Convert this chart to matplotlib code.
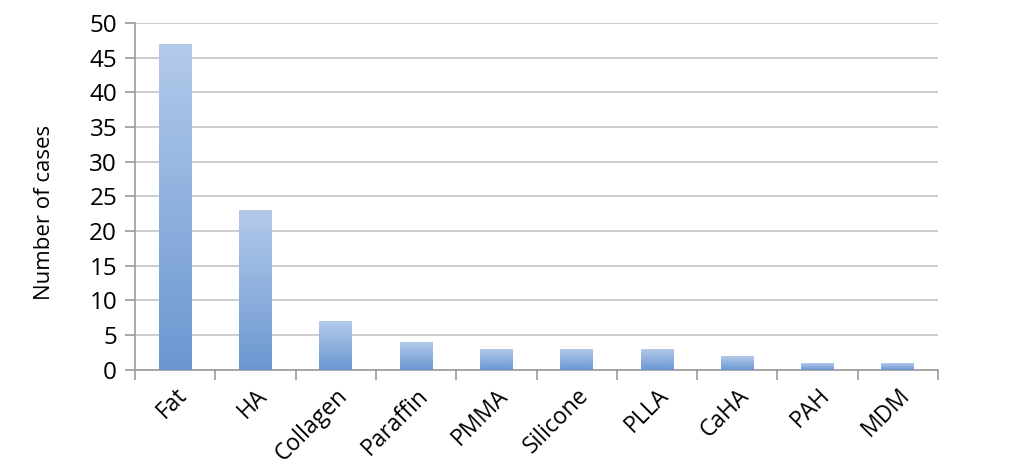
import numpy as np
import matplotlib.pyplot as plt
from matplotlib.colors import LinearSegmentedColormap

materials = ["Fat", "HA", "Collagen", "Paraffin", "PMMA", "Silicone", "PLLA", "CaHA", "PAH", "MDM"]
cases = [47, 23, 7, 4, 3, 3, 3, 2, 1, 1]

plt.rcParams['font.family'] = ['Open Sans', 'DejaVu Sans']

fig = plt.figure(figsize=(10.24, 4.67), dpi=100)
ax = fig.add_axes([0.132, 0.208, 0.784, 0.743])

x = np.arange(len(materials))
bars = ax.bar(x, cases, width=0.41, color='none', edgecolor='none', zorder=3)

# vertical gradient: darker at the bottom, lighter at the top
cmap = LinearSegmentedColormap.from_list("grad", ["#6b97d1", "#b3caeb"])
grad = np.linspace(0, 1, 256).reshape(-1, 1)
for b in bars:
    x0, y0 = b.get_x(), b.get_y()
    w, h = b.get_width(), b.get_height()
    im = ax.imshow(grad, cmap=cmap, origin='lower', aspect='auto',
                   extent=(x0, x0 + w, y0, y0 + h), zorder=3)
    im.set_clip_path(b)

ax.set_xlim(-0.5, len(materials) - 0.5)
ax.set_ylim(0, 50)
ax.set_yticks(range(0, 51, 5))
ax.yaxis.grid(True, color='#c4c4c4', linewidth=1.2)
ax.set_axisbelow(True)

ax.set_xticks(x)
ax.set_xticklabels(materials, rotation=45, ha='right', rotation_mode='anchor', fontsize=16.5)
ax.set_xticks(np.arange(-0.5, len(materials)), minor=True)
ax.tick_params(axis='x', which='major', length=0, pad=10)
ax.tick_params(axis='x', which='minor', length=7, color='#9a9a9a', width=1.2)
ax.tick_params(axis='y', length=7, color='#9a9a9a', width=1.2, labelsize=17.5, pad=6)

for s in ['top', 'right']:
    ax.spines[s].set_visible(False)
for s in ['left', 'bottom']:
    ax.spines[s].set_color('#9a9a9a')
    ax.spines[s].set_linewidth(1.2)

ax.set_ylabel("Number of cases", fontsize=16)
ax.yaxis.set_label_coords(-0.100, 0.455)

fig.savefig("out.png", dpi=100)
